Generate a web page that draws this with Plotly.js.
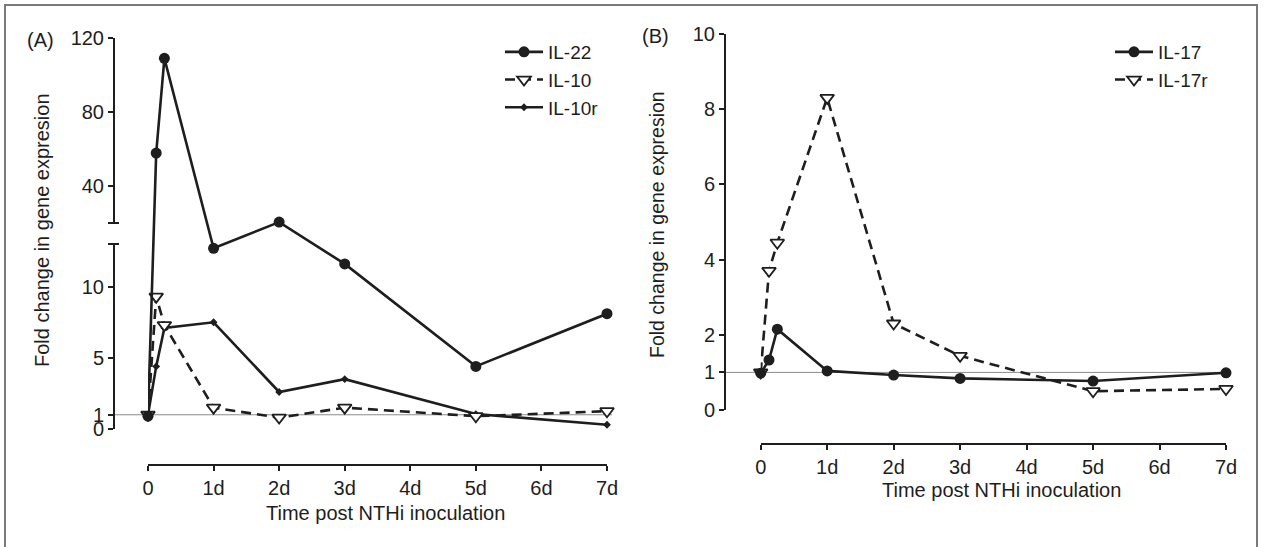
<!DOCTYPE html>
<html>
<head>
<meta charset="utf-8">
<script src="https://cdn.plot.ly/plotly-3.0.1.min.js"></script>
<style>html,body{margin:0;padding:0;background:#fff;}#chart{width:1264px;height:547px;}</style>
</head>
<body>
<div id="chart"></div>
<script>
// ---------------- DATA ----------------
// time points in days (0, 3 h, 6 h, 1d ... 7d)
const timeA = [0, 0.125, 0.25, 1, 2, 3, 5, 7];
const il22  = [0.9, 57.8, 109, 12.7, 20.5, 11.6, 4.4, 8.1];
const il10  = [1.0, 9.3, 7.3, 1.5, 0.8, 1.5, 0.9, 1.25];
const il10r = [1.0, 4.4, 7.1, 7.5, 2.6, 3.5, 1.05, 0.3];

const timeB = [0, 0.125, 0.25, 1, 2, 3, 5, 7];
const il17  = [0.98, 1.33, 2.15, 1.04, 0.93, 0.84, 0.77, 0.99];
const il17r = [1.0, 3.7, 4.45, 8.3, 2.3, 1.44, 0.5, 0.56];

const xTickVals = [0, 1, 2, 3, 4, 5, 6, 7];
const xTickText = ['0', '1d', '2d', '3d', '4d', '5d', '6d', '7d'];
const yTicksALow = [0, 1, 5, 10];
const yTicksAUp = [40, 80, 120];
const yTicksB = [0, 1, 2, 4, 6, 8, 10];

const legendNamesA = ['IL-22', 'IL-10', 'IL-10r'];
const legendNamesB = ['IL-17', 'IL-17r'];
const xTitle = 'Time post NTHi inoculation';
const yTitle = 'Fold change in gene expresion';

// ---------------- LAYOUT HELPERS ----------------
const W = 1264, H = 547;
const fx = p => p / W;
const fy = p => 1 - p / H;

// broken axis of panel A: lower segment 0..13, upper segment 20..120
const LOW_RANGE = [0, 13];
const UP_RANGE = [20, 120];
const lowDom = [fy(429), fy(244)];
const upDom = [fy(223), fy(38)];
const dataDom = [lowDom[0], upDom[1]];
function brokenY(v) {
  const span = dataDom[1] - dataDom[0];
  let d;
  if (v <= LOW_RANGE[1]) {
    d = lowDom[0] + (v - LOW_RANGE[0]) / (LOW_RANGE[1] - LOW_RANGE[0]) * (lowDom[1] - lowDom[0]);
  } else {
    const vv = Math.max(v, UP_RANGE[0]);
    d = upDom[0] + (vv - UP_RANGE[0]) / (UP_RANGE[1] - UP_RANGE[0]) * (upDom[1] - upDom[0]);
  }
  return (d - dataDom[0]) / span;
}

const FONT = 'Liberation Sans, Arial, Helvetica, sans-serif';
const INK = '#1e1e1e';
const tickFont = {family: FONT, size: 20, color: INK};
const LW = 2.6;
const DASH = '10px,6px';

function circleMarker() { return {symbol: 'circle', size: 11, color: INK, line: {width: 0}}; }
function triMarker() { return {symbol: 'triangle-down', size: 12, color: '#ffffff', line: {color: INK, width: 1.8}}; }
function smallMarker() { return {symbol: 'diamond', size: 6, color: INK, line: {width: 0}}; }

const traces = [
  // panel A
  {x: timeA, y: il10r.map(brokenY), customdata: il10r, name: legendNamesA[2], legend: 'legend', legendrank: 3,
   xaxis: 'x', yaxis: 'y3', mode: 'lines+markers', cliponaxis: false,
   line: {color: INK, width: LW}, marker: smallMarker(), hovertemplate: '%{customdata}<extra>IL-10r</extra>'},
  {x: timeA, y: il10.map(brokenY), customdata: il10, name: legendNamesA[1], legend: 'legend', legendrank: 2,
   xaxis: 'x', yaxis: 'y3', mode: 'lines+markers', cliponaxis: false,
   line: {color: INK, width: LW, dash: DASH}, marker: triMarker(), hovertemplate: '%{customdata}<extra>IL-10</extra>'},
  {x: timeA, y: il22.map(brokenY), customdata: il22, name: legendNamesA[0], legend: 'legend', legendrank: 1,
   xaxis: 'x', yaxis: 'y3', mode: 'lines+markers', cliponaxis: false,
   line: {color: INK, width: LW}, marker: circleMarker(), hovertemplate: '%{customdata}<extra>IL-22</extra>'},
  // empty traces so the two segment axes of the broken axis are drawn
  {x: [], y: [], xaxis: 'x', yaxis: 'y', showlegend: false, hoverinfo: 'skip'},
  {x: [], y: [], xaxis: 'x', yaxis: 'y2', showlegend: false, hoverinfo: 'skip'},
  // panel B
  {x: timeB, y: il17r, name: legendNamesB[1], legend: 'legend2', legendrank: 2,
   xaxis: 'x2', yaxis: 'y4', mode: 'lines+markers', cliponaxis: false,
   line: {color: INK, width: LW, dash: DASH}, marker: triMarker()},
  {x: timeB, y: il17, name: legendNamesB[0], legend: 'legend2', legendrank: 1,
   xaxis: 'x2', yaxis: 'y4', mode: 'lines+markers', cliponaxis: false,
   line: {color: INK, width: LW}, marker: circleMarker()}
];

const axisBase = {
  showgrid: false, zeroline: false, showline: true, linecolor: INK, linewidth: 2,
  ticks: 'outside', ticklen: 5, tickwidth: 2, tickcolor: INK, tickfont: tickFont,
  fixedrange: true
};

function label(text, x, y, size, angle) {
  return {text: text, xref: 'paper', yref: 'paper', x: fx(x), y: fy(y), xanchor: 'center', yanchor: 'middle',
    showarrow: false, textangle: angle || 0, font: {family: FONT, size: size, color: INK}};
}

const layout = {
  width: W, height: H,
  margin: {l: 0, r: 0, t: 0, b: 0, pad: 0},
  paper_bgcolor: '#ffffff', plot_bgcolor: 'rgba(0,0,0,0)',
  showlegend: true,
  hovermode: 'closest',
  xaxis: Object.assign({}, axisBase, {domain: [fx(148), fx(607)], range: [0, 7], anchor: 'free', position: fy(465),
    tickmode: 'array', tickvals: xTickVals, ticktext: xTickText}),
  yaxis: Object.assign({}, axisBase, {domain: lowDom, range: LOW_RANGE, anchor: 'free', position: fx(114),
    tickmode: 'array', tickvals: yTicksALow}),
  yaxis2: Object.assign({}, axisBase, {domain: upDom, range: UP_RANGE, anchor: 'free', position: fx(114),
    tickmode: 'array', tickvals: yTicksAUp}),
  yaxis3: {domain: dataDom, range: [0, 1], anchor: 'x', visible: false, fixedrange: true},
  xaxis2: Object.assign({}, axisBase, {domain: [fx(760.7), fx(1226)], range: [0, 7], anchor: 'free', position: fy(444),
    tickmode: 'array', tickvals: xTickVals, ticktext: xTickText}),
  yaxis4: Object.assign({}, axisBase, {domain: [fy(410), fy(34)], range: [0, 10], anchor: 'free', position: fx(725),
    tickmode: 'array', tickvals: yTicksB}),
  legend: {x: fx(500), y: fy(33), xanchor: 'left', yanchor: 'top', bgcolor: 'rgba(0,0,0,0)',
    font: {family: FONT, size: 19, color: INK}, itemwidth: 38, traceorder: 'normal'},
  legend2: {x: fx(1110), y: fy(33), xanchor: 'left', yanchor: 'top', bgcolor: 'rgba(0,0,0,0)',
    font: {family: FONT, size: 19, color: INK}, itemwidth: 38, traceorder: 'normal'},
  shapes: [
    // outer frame
    {type: 'rect', xref: 'paper', yref: 'paper', x0: fx(5), x1: fx(1257), y0: fy(560), y1: fy(5),
     line: {color: '#7a7a7a', width: 2}, layer: 'below'},
    // reference lines at fold change = 1
    {type: 'line', xref: 'paper', yref: 'y', x0: fx(114), x1: fx(612), y0: 1, y1: 1,
     line: {color: '#8a8a8a', width: 1}, layer: 'below'},
    {type: 'line', xref: 'paper', yref: 'y4', x0: fx(725), x1: fx(1230), y0: 1, y1: 1,
     line: {color: '#8a8a8a', width: 1}, layer: 'below'},
    // break caps on the axis of panel A
    {type: 'line', xref: 'paper', yref: 'paper', x0: fx(108), x1: fx(119), y0: upDom[0], y1: upDom[0],
     line: {color: INK, width: 2}},
    {type: 'line', xref: 'paper', yref: 'paper', x0: fx(108), x1: fx(119), y0: lowDom[1], y1: lowDom[1],
     line: {color: INK, width: 2}}
  ],
  annotations: [
    label('(A)', 40, 40, 20),
    label('(B)', 655, 36, 20),
    label(yTitle, 42, 230, 20, -90),
    label(yTitle, 657, 225, 19.5, -90),
    label(xTitle, 385, 513, 20),
    label(xTitle, 1001, 490, 20)
  ]
};

Plotly.newPlot('chart', traces, layout, {displayModeBar: false, responsive: false});
</script>
</body>
</html>
